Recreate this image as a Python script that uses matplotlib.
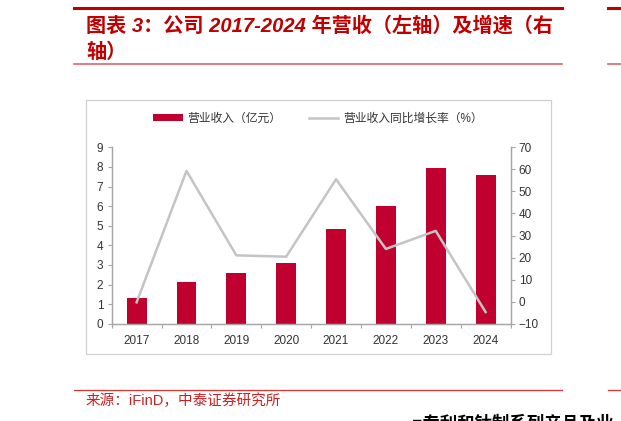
import matplotlib.pyplot as plt
import matplotlib.lines as mlines
import matplotlib.patches as mpatches
import numpy as np

plt.rcParams['font.family'] = ['Liberation Sans', 'Noto Sans CJK SC', 'DejaVu Sans']

# --- data ---
years = ['2017', '2018', '2019', '2020', '2021', '2022', '2023', '2024']
revenue = [1.33, 2.13, 2.57, 3.11, 4.85, 6.00, 7.93, 7.59]       # 亿元
growth = [-0.3, 59.3, 21.0, 20.4, 55.5, 23.9, 32.1, -4.7]        # %
left_ticks = list(range(0, 10))
right_ticks = list(range(-10, 80, 10))

RED = '#c0002f'
TITLE_RED = '#c00000'
GREY_LINE = '#c4c4c4'
AXIS = '#a6a6a6'
TEXT = '#333333'

W, H = 621, 421
fig = plt.figure(figsize=(W / 100, H / 100), dpi=100)
fig.patch.set_facecolor('white')


def fx(px):
    return px / W


def fy(py):
    return 1 - py / H


# header / footer rules
fig.add_artist(mlines.Line2D([fx(74), fx(562)], [fy(8), fy(8)], color=TITLE_RED, lw=2.2))
fig.add_artist(mlines.Line2D([fx(74), fx(562)], [fy(64), fy(64)], color='#e06666', lw=1.2))
fig.add_artist(mlines.Line2D([fx(74), fx(562)], [fy(390), fy(390)], color='#e03030', lw=0.9))
# neighbouring column edges
fig.add_artist(mlines.Line2D([fx(608), fx(621)], [fy(8), fy(8)], color=TITLE_RED, lw=2.2))
fig.add_artist(mlines.Line2D([fx(608), fx(621)], [fy(64), fy(64)], color='#e06666', lw=1.2))
fig.add_artist(mlines.Line2D([fx(608), fx(621)], [fy(390), fy(390)], color='#e03030', lw=0.9))

fig.text(fx(86), fy(26), '图表 3：公司 2017-2024 年营收（左轴）及增速（右',
         color=TITLE_RED, fontsize=14.5, fontweight='bold', style='italic',
         va='center', ha='left')
fig.text(fx(86), fy(52), '轴）', color=TITLE_RED, fontsize=14.5, fontweight='bold',
         style='italic', va='center', ha='left')

fig.text(fx(86), fy(401), '来源：iFinD，中泰证券研究所', color='#d02020',
         fontsize=10.5, va='center', ha='left')
fig.text(fx(412), fy(423), '■专利和钛制系列产品及业', color='black',
         fontsize=12.5, fontweight='bold', va='center', ha='left')

# chart frame
fig.add_artist(mpatches.Rectangle((fx(86), fy(354)), fx(550.5) - fx(86), fy(100) - fy(354),
                                  fill=False, edgecolor='#d0d0d0', lw=0.9))

# --- chart ---
ax = fig.add_axes([fx(111.7), fy(323.7), fx(510.5) - fx(111.7), fy(147.3) - fy(323.7)])
ax2 = ax.twinx()

x = np.arange(len(years))
bars = ax.bar(x, revenue, width=0.4, color=RED, zorder=2, label='营业收入（亿元）')
line, = ax2.plot(x, growth, color=GREY_LINE, lw=1.8, zorder=3, label='营业收入同比增长率（%）')

ax.set_xlim(-0.5, len(years) - 0.5)
ax.set_ylim(0, 9)
ax.set_yticks(left_ticks)
ax2.set_ylim(-10, 70)
ax2.set_yticks(right_ticks)

ax.set_xticks(x)
ax.set_xticklabels(years)
ax.set_xticks(np.arange(-0.5, len(years), 1), minor=True)
ax.tick_params(axis='x', which='major', length=0, pad=8, labelsize=8.5, labelcolor=TEXT)
ax.tick_params(axis='x', which='minor', length=3, color=AXIS, width=0.8, direction='out')
ax.tick_params(axis='y', length=3, color=AXIS, width=0.8, labelsize=8.5, labelcolor=TEXT, pad=3)
ax2.tick_params(axis='y', length=3, color=AXIS, width=0.8, labelsize=8.5, labelcolor=TEXT, pad=3)

for a in (ax, ax2):
    a.spines['top'].set_visible(False)
    for s in ('left', 'right', 'bottom'):
        a.spines[s].set_color(AXIS)
        a.spines[s].set_linewidth(0.9)
    a.patch.set_visible(False)

fig.legend(handles=[bars, line], loc='center', bbox_to_anchor=(fx(318), fy(119)),
           ncol=2, frameon=False, fontsize=8.5, handlelength=2.5, handleheight=0.5,
           columnspacing=2.3, handletextpad=0.4, labelcolor=TEXT)

fig.savefig('out.png', dpi=100)
